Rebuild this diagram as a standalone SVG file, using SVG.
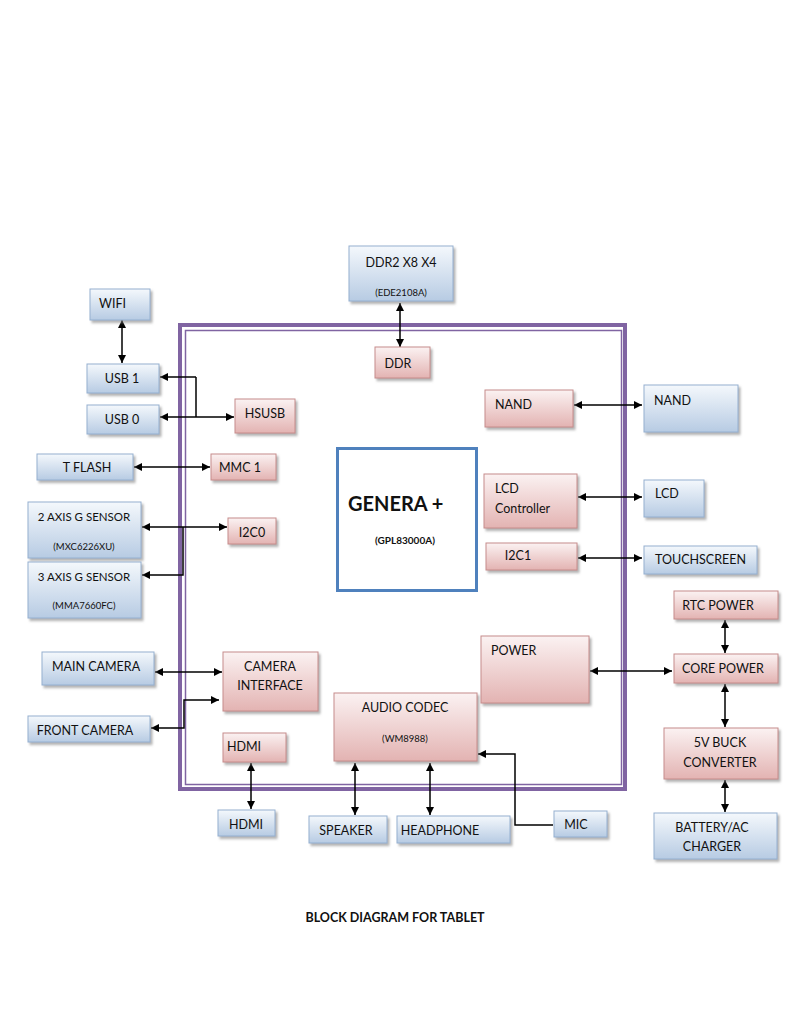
<svg xmlns="http://www.w3.org/2000/svg" width="791" height="1023" viewBox="0 0 791 1023">
<defs>
<linearGradient id="gb" x1="0" y1="0" x2="0" y2="1"><stop offset="0" stop-color="#f4f8fc"/><stop offset="1" stop-color="#b7cbe3"/></linearGradient>
<linearGradient id="gp" x1="0" y1="0" x2="0" y2="1"><stop offset="0" stop-color="#fbf2f2"/><stop offset="1" stop-color="#e3b3b2"/></linearGradient>
<filter id="sh" x="-10%" y="-10%" width="130%" height="140%"><feDropShadow dx="2" dy="2.5" stdDeviation="1" flood-color="#808080" flood-opacity="0.6"/></filter>
<marker id="ah" viewBox="0 0 10 10" refX="10" refY="5" markerWidth="8" markerHeight="8" markerUnits="userSpaceOnUse" orient="auto-start-reverse"><path d="M0,0 L10,5 L0,10 z" fill="#000"/></marker>
<style>
.b{fill:url(#gb);stroke:#95b0d0;stroke-width:1;filter:url(#sh)}
.p{fill:url(#gp);stroke:#c68c8b;stroke-width:1;filter:url(#sh)}
text{font-family:Lato,"Open Sans","Liberation Sans",sans-serif;font-size:12.5px;fill:#111}
.c{text-anchor:middle}
.s{font-size:9.5px}
.k{fill:none;stroke:#000;stroke-width:1.5}
.a{marker-start:url(#ah);marker-end:url(#ah)}
.e{marker-end:url(#ah)}
</style>
</defs>
<rect width="791" height="1023" fill="#fff"/>
<g id="frame">
<rect x="180" y="325" width="445" height="464" fill="none" stroke="#8064a2" stroke-width="4"/>
<rect x="185.5" y="330.5" width="436" height="454" fill="none" stroke="#8064a2" stroke-width="1.5"/>
</g>
<g id="genera">
<rect x="337.5" y="448.5" width="139" height="142" fill="#fff" stroke="#4f81bd" stroke-width="3"/>
<text x="348" y="511" style="font-size:20px;font-weight:bold">GENERA +</text>
<text x="375" y="544" style="font-weight:bold;font-size:10px">(GPL83000A)</text>
</g>
<g id="connectors">
<line class="k a" x1="400" y1="303" x2="400" y2="347"/>
<line class="k a" x1="122" y1="320" x2="122" y2="363"/>
<polyline class="k" points="196,377 196,417"/>
<line class="k e" x1="196" y1="377" x2="160" y2="377"/>
<line class="k a" x1="160" y1="417" x2="234" y2="417"/>
<line class="k a" x1="134" y1="467" x2="210" y2="467"/>
<line class="k a" x1="142" y1="527" x2="227" y2="527"/>
<polyline class="k e" points="183,527 183,575 142,575"/>
<line class="k a" x1="155" y1="672" x2="222" y2="672"/>
<polyline class="k a" points="151,728 184,728 184,700 219,700"/>
<line class="k a" x1="251" y1="763" x2="251" y2="809"/>
<line class="k a" x1="355" y1="763" x2="355" y2="815"/>
<line class="k a" x1="430" y1="763" x2="430" y2="815"/>
<polyline class="k e" points="553,825 515,825 515,754 478,754"/>
<line class="k a" x1="574" y1="405" x2="642" y2="405"/>
<line class="k a" x1="578" y1="497" x2="642" y2="497"/>
<line class="k a" x1="578" y1="558" x2="642" y2="558"/>
<line class="k a" x1="590" y1="671" x2="672" y2="671"/>
<line class="k a" x1="725" y1="620" x2="725" y2="653"/>
<line class="k a" x1="725" y1="684" x2="725" y2="727"/>
<line class="k a" x1="725" y1="780" x2="725" y2="812"/>
</g>
<g id="ddr2"><rect class="b" x="349" y="246" width="104" height="55"/><text class="c" x="401" y="267">DDR2 X8 X4</text><text class="c s" x="401" y="296">(EDE2108A)</text></g>
<g id="wifi"><rect class="b" x="90" y="289" width="60" height="31"/><text x="99" y="308">WIFI</text></g>
<g id="usb1"><rect class="b" x="87" y="364" width="72" height="29"/><text class="c" x="122" y="383">USB 1</text></g>
<g id="usb0"><rect class="b" x="87" y="405" width="72" height="29"/><text class="c" x="122" y="424">USB 0</text></g>
<g id="tflash"><rect class="b" x="37" y="454" width="96" height="26"/><text class="c" x="87" y="472">T FLASH</text></g>
<g id="sensor2"><rect class="b" x="28" y="502" width="113" height="56"/><text class="c" x="84" y="521" style="font-size:11.5px">2 AXIS G SENSOR</text><text class="c s" x="84" y="550">(MXC6226XU)</text></g>
<g id="sensor3"><rect class="b" x="28" y="562" width="113" height="56"/><text class="c" x="84" y="581" style="font-size:11.5px">3 AXIS G SENSOR</text><text class="c s" x="84" y="609">(MMA7660FC)</text></g>
<g id="maincam"><rect class="b" x="42" y="652" width="112" height="33"/><text class="c" x="96" y="671">MAIN CAMERA</text></g>
<g id="frontcam"><rect class="b" x="28" y="716" width="122" height="26"/><text class="c" x="85" y="735">FRONT CAMERA</text></g>
<g id="hdmiout"><rect class="b" x="218" y="810" width="57" height="26"/><text class="c" x="246" y="829">HDMI</text></g>
<g id="speaker"><rect class="b" x="309" y="816" width="78" height="27"/><text class="c" x="346" y="835">SPEAKER</text></g>
<g id="headphone"><rect class="b" x="397" y="816" width="113" height="27"/><text class="c" x="440" y="835">HEADPHONE</text></g>
<g id="mic"><rect class="b" x="554" y="811" width="53" height="26"/><text class="c" x="576" y="829">MIC</text></g>
<g id="nandout"><rect class="b" x="644" y="385" width="94" height="47"/><text x="654" y="405">NAND</text></g>
<g id="lcd"><rect class="b" x="644" y="480" width="60" height="37"/><text x="655" y="498">LCD</text></g>
<g id="touch"><rect class="b" x="644" y="546" width="113" height="28"/><text x="655" y="564">TOUCHSCREEN</text></g>
<g id="battery"><rect class="b" x="654" y="813" width="123" height="46"/><text class="c" x="712" y="832">BATTERY/AC</text><text class="c" x="712" y="851">CHARGER</text></g>
<g id="ddr"><rect class="p" x="375" y="347" width="55" height="31"/><text class="c" x="398" y="368">DDR</text></g>
<g id="hsusb"><rect class="p" x="235" y="399" width="60" height="34"/><text class="c" x="265" y="418">HSUSB</text></g>
<g id="mmc1"><rect class="p" x="211" y="454" width="65" height="26"/><text class="c" x="240" y="472">MMC 1</text></g>
<g id="i2c0"><rect class="p" x="228" y="518" width="48" height="26"/><text class="c" x="252" y="537">I2C0</text></g>
<g id="camif"><rect class="p" x="223" y="652" width="95" height="59"/><text class="c" x="270" y="671">CAMERA</text><text class="c" x="270" y="690">INTERFACE</text></g>
<g id="hdmiin"><rect class="p" x="223" y="733" width="63" height="29"/><text class="c" x="244" y="751">HDMI</text></g>
<g id="audio"><rect class="p" x="334" y="693" width="143" height="68"/><text class="c" x="405" y="712">AUDIO CODEC</text><text class="c s" x="405" y="742">(WM8988)</text></g>
<g id="power"><rect class="p" x="481" y="636" width="108" height="67"/><text x="491" y="655">POWER</text></g>
<g id="nandin"><rect class="p" x="485" y="390" width="88" height="37"/><text x="495" y="409">NAND</text></g>
<g id="lcdctrl"><rect class="p" x="484" y="474" width="93" height="54"/><text x="495" y="493">LCD</text><text x="495" y="513">Controller</text></g>
<g id="i2c1"><rect class="p" x="486" y="543" width="91" height="27"/><text class="c" x="518" y="560">I2C1</text></g>
<g id="rtc"><rect class="p" x="674" y="591" width="104" height="28"/><text class="c" x="718" y="610">RTC POWER</text></g>
<g id="core"><rect class="p" x="674" y="654" width="104" height="29"/><text class="c" x="723" y="673">CORE POWER</text></g>
<g id="buck"><rect class="p" x="664" y="728" width="114" height="51"/><text class="c" x="720" y="747">5V BUCK</text><text class="c" x="720" y="767">CONVERTER</text></g>
<g id="title"><text class="c" x="395" y="922" style="font-size:12.5px;font-weight:bold">BLOCK DIAGRAM FOR TABLET</text></g>
</svg>
